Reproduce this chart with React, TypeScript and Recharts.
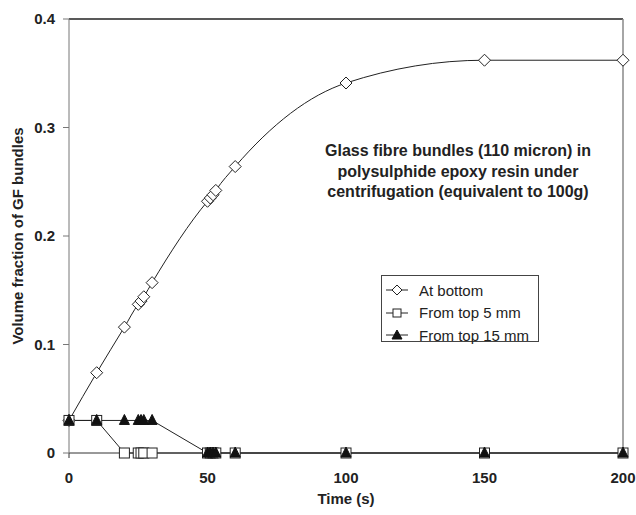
import {
  Legend,
  Line,
  LineChart,
  ReferenceLine,
  XAxis,
  YAxis,
} from "recharts";

const times = [0, 10, 20, 25, 26, 27, 30, 50, 51, 52, 53, 60, 100, 150, 200];
const atBottom = [
  0.03, 0.074, 0.116, 0.137, 0.14, 0.144, 0.157, 0.232, 0.235, 0.238, 0.242,
  0.264, 0.341, 0.362, 0.362,
];
const fromTop5 = [0.03, 0.03, 0, 0, 0, 0, 0, 0, 0, 0, 0, 0, 0, 0, 0];
const fromTop15 = [
  0.03, 0.03, 0.03, 0.03, 0.03, 0.03, 0.03, 0, 0, 0, 0, 0, 0, 0, 0,
];
const xTicks = [0, 50, 100, 150, 200];
const yTicks = [0, 0.1, 0.2, 0.3, 0.4];
const annotation = [
  "Glass fibre bundles (110 micron) in",
  "polysulphide epoxy resin under",
  "centrifugation (equivalent to 100g)",
];

const data = times.map((t, i) => ({
  t,
  bottom: atBottom[i],
  top5: fromTop5[i],
  top15: fromTop15[i],
}));

const FONT = '"Liberation Sans", Arial, sans-serif';
const INK = "#222";

function diamond(cx: number, cy: number, r = 6) {
  return `M${cx},${cy - r}L${cx + r},${cy}L${cx},${cy + r}L${cx - r},${cy}Z`;
}

function triangle(cx: number, cy: number) {
  return `M${cx},${cy - 6}L${cx + 5},${cy + 4}L${cx - 5},${cy + 4}Z`;
}

const DiamondDot = (props: any) => {
  const { cx, cy, index } = props;
  if (cx == null || cy == null) return <g key={`d${index}`} />;
  return (
    <path key={`d${index}`} d={diamond(cx, cy)} fill="#fff" stroke={INK} strokeWidth={1} />
  );
};

const SquareDot = (props: any) => {
  const { cx, cy, index } = props;
  if (cx == null || cy == null) return <g key={`s${index}`} />;
  return (
    <rect
      key={`s${index}`}
      x={cx - 5}
      y={cy - 5}
      width={10}
      height={10}
      fill="#fff"
      stroke={INK}
      strokeWidth={1}
    />
  );
};

const TriangleDot = (props: any) => {
  const { cx, cy, index } = props;
  if (cx == null || cy == null) return <g key={`t${index}`} />;
  return <path key={`t${index}`} d={triangle(cx, cy)} fill="#111" stroke="#111" strokeWidth={1} />;
};

const legendItems = [
  { label: "At bottom", kind: "diamond" },
  { label: "From top 5 mm", kind: "square" },
  { label: "From top 15 mm", kind: "triangle" },
];

function ChartLegend() {
  return (
    <div
      style={{
        border: "1px solid #444",
        background: "#fff",
        width: 158,
        height: 67,
        boxSizing: "border-box",
        padding: "3px 0 0 3px",
        fontFamily: FONT,
        fontSize: 15,
        color: INK,
        textAlign: "left",
      }}
    >
      {legendItems.map((it) => (
        <div key={it.label} style={{ display: "flex", alignItems: "center", height: 22.5 }}>
          <svg width={24} height={14} style={{ marginRight: 10 }}>
            <line x1={1} y1={7} x2={23} y2={7} stroke={INK} strokeWidth={1} />
            {it.kind === "diamond" && (
              <path d={diamond(12, 7, 5)} fill="#fff" stroke={INK} />
            )}
            {it.kind === "square" && (
              <rect x={8} y={3} width={8} height={8} fill="#fff" stroke={INK} />
            )}
            {it.kind === "triangle" && (
              <path d="M12,2L17,11L7,11Z" fill="#111" stroke="#111" />
            )}
          </svg>
          <span>{it.label}</span>
        </div>
      ))}
    </div>
  );
}

export default function App() {
  return (
    <div
      style={{
        position: "absolute",
        left: 0,
        top: 0,
        width: 636,
        height: 515,
        background: "#fff",
        fontFamily: FONT,
      }}
    >
      <LineChart
        width={636}
        height={515}
        data={data}
        margin={{ top: 19, right: 13, bottom: 12, left: 9 }}
      >
        <XAxis
          dataKey="t"
          type="number"
          domain={[0, 200]}
          ticks={xTicks}
          tickSize={5}
          tickMargin={14}
          height={50}
          stroke="#333"
          tick={{ fill: INK, fontSize: 15, fontWeight: "bold", fontFamily: FONT }}
          label={{
            value: "Time (s)",
            position: "insideBottom",
            offset: -1,
            fill: INK,
            fontSize: 15,
            fontWeight: "bold",
            fontFamily: FONT,
          }}
        />
        <YAxis
          type="number"
          domain={[0, 0.4]}
          ticks={yTicks}
          width={60}
          tickSize={6}
          tickMargin={8}
          stroke="#777"
          tickFormatter={(v: number) => (v === 0 ? "0" : v.toFixed(1))}
          tick={{ fill: INK, fontSize: 15, fontWeight: "bold", fontFamily: FONT }}
          label={{
            content: ({ viewBox }: any) => {
              const cx = 17;
              const cy = viewBox.y + viewBox.height / 2;
              return (
                <text
                  x={cx}
                  y={cy}
                  transform={`rotate(-90 ${cx} ${cy})`}
                  textAnchor="middle"
                  dominantBaseline="central"
                  fill={INK}
                  fontSize={15}
                  fontWeight="bold"
                  fontFamily={FONT}
                >
                  Volume fraction of GF bundles
                </text>
              );
            },
          }}
        />
        <ReferenceLine y={0.4} stroke="#222" strokeWidth={1.5} />
        <ReferenceLine x={200} stroke="#888" strokeWidth={1.5} />
        <Legend
          verticalAlign="middle"
          align="center"
          content={() => <ChartLegend />}
          wrapperStyle={{ position: "absolute", left: 381, top: 275, width: 158 }}
        />
        <Line
          dataKey="bottom"
          type="monotone"
          stroke={INK}
          strokeWidth={1}
          dot={DiamondDot}
          isAnimationActive={false}
        />
        <Line
          dataKey="top5"
          type="linear"
          stroke={INK}
          strokeWidth={1}
          dot={SquareDot}
          isAnimationActive={false}
        />
        <Line
          dataKey="top15"
          type="linear"
          stroke={INK}
          strokeWidth={1}
          dot={TriangleDot}
          isAnimationActive={false}
        />
      </LineChart>
      <div
        style={{
          position: "absolute",
          left: 298,
          top: 141,
          width: 320,
          textAlign: "center",
          fontWeight: "bold",
          fontSize: 16,
          lineHeight: "20.5px",
          color: INK,
        }}
      >
        {annotation.map((l) => (
          <div key={l}>{l}</div>
        ))}
      </div>
    </div>
  );
}
